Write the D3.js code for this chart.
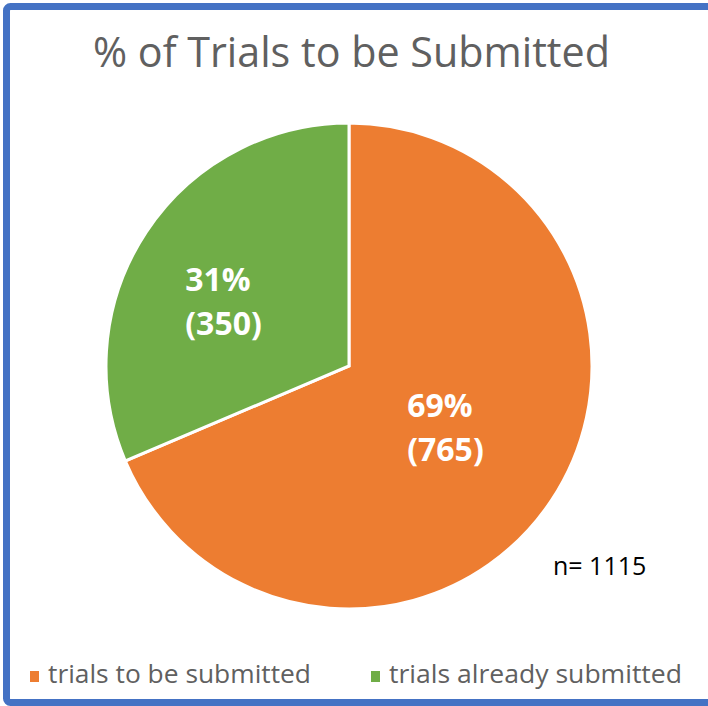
<!DOCTYPE html>
<html>
<head>
<meta charset="utf-8">
<script src="https://cdn.jsdelivr.net/npm/d3@7"></script>
<style>
  body { margin: 0; background: #fff; }
  svg { display: block; }
</style>
</head>
<body>
<svg width="708" height="706"></svg>
<script>
var categories = ["trials to be submitted", "trials already submitted"];
var counts = [765, 350];
var percents = ["69%", "31%"];
var colors = ["#ED7D31", "#70AD47"];
var total = 1115;

window.onload = function() {
  var svg = d3.select("svg");

  // blue frame, right edge is cut off in the original
  svg.append("rect")
    .attr("x", 6.5).attr("y", 6.5)
    .attr("width", 740).attr("height", 696)
    .attr("rx", 4)
    .attr("fill", "#fff")
    .attr("stroke", "#4472C4")
    .attr("stroke-width", 7);

  svg.append("text")
    .attr("x", 93).attr("y", 67)
    .attr("font-family", "Open Sans, sans-serif")
    .attr("font-size", 42)
    .attr("fill", "#606060")
    .attr("textLength", 517)
    .attr("lengthAdjust", "spacingAndGlyphs")
    .text("% of Trials to be Submitted");

  var cx = 349, cy = 366, radius = 243;
  var g = svg.append("g").attr("transform", "translate(" + cx + "," + cy + ")");

  var data = categories.map(function(c, i) {
    return {name: c, value: counts[i], pct: percents[i], color: colors[i]};
  });

  var pie = d3.pie().sort(null).value(function(d) { return d.value; });
  var arc = d3.arc().innerRadius(0).outerRadius(radius);
  var arcs = pie(data);

  g.selectAll("path")
    .data(arcs)
    .enter().append("path")
      .attr("d", arc)
      .attr("fill", function(d) { return d.data.color; })
      .attr("stroke", "#fff")
      .attr("stroke-width", 3)
      .attr("stroke-linejoin", "miter");

  // label blocks sit near the centroid, nudged like Excel does
  var labelArc = d3.arc().innerRadius(radius * 0.55).outerRadius(radius * 0.55);
  var offsets = [[-15, -13], [-14, 9]];

  var labels = g.selectAll("text.lbl")
    .data(arcs)
    .enter().append("text")
      .attr("class", "lbl")
      .attr("font-family", "Open Sans, sans-serif")
      .attr("font-weight", "bold")
      .attr("font-size", 32)
      .attr("fill", "#fff");

  labels.append("tspan")
    .attr("x", 0).attr("y", 0)
    .text(function(d) { return d.data.pct; });
  labels.append("tspan")
    .attr("x", 0).attr("y", 44)
    .text(function(d) { return "(" + d.data.value + ")"; });

  // left-align the two lines, centre the block
  labels.attr("transform", function(d, i) {
    var c = labelArc.centroid(d);
    var w = this.getBBox().width;
    var x = c[0] + offsets[i][0] - w / 2;
    var y = c[1] + offsets[i][1] - 10;
    return "translate(" + x + "," + y + ")";
  });

  svg.append("text")
    .attr("x", 553).attr("y", 575)
    .attr("font-family", "Open Sans, sans-serif")
    .attr("font-size", 25)
    .attr("fill", "#000")
    .text("n= " + total);

  // legend
  var legendX = [30, 371];
  var legendW = [263, 293];
  var legend = svg.selectAll("g.legend")
    .data(data)
    .enter().append("g")
      .attr("class", "legend")
      .attr("transform", function(d, i) { return "translate(" + legendX[i] + ",683)"; });

  legend.append("rect")
    .attr("x", 0).attr("y", -12)
    .attr("width", 9).attr("height", 11)
    .attr("fill", function(d) { return d.color; });

  legend.append("text")
    .attr("x", 18)
    .attr("font-family", "Open Sans, sans-serif")
    .attr("font-size", 25)
    .attr("fill", "#606060")
    .attr("textLength", function(d, i) { return legendW[i]; })
    .attr("lengthAdjust", "spacingAndGlyphs")
    .text(function(d) { return d.name; });
};
</script>
</body>
</html>
